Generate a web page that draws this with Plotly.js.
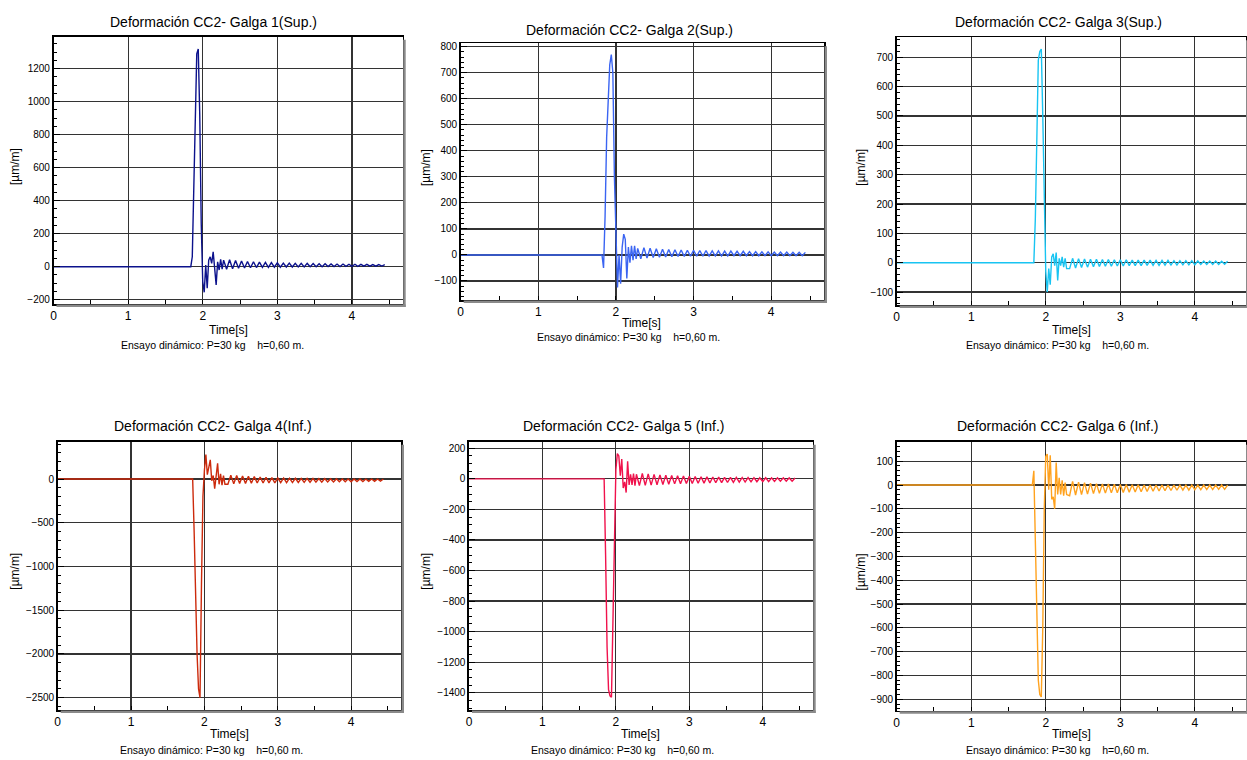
<!DOCTYPE html>
<html><head><meta charset="utf-8">
<script src="https://cdn.plot.ly/plotly-3.0.1.min.js"></script>
<style>html,body{margin:0;padding:0;background:#fff}#chart{width:1247px;height:760px}</style>
</head><body><div id="chart"></div>
<script>
// ---------- DATA ----------
const timeImpact = [0, 1.82, 1.84, 1.86, 1.88, 1.90, 1.92, 1.94, 1.96, 1.98, 2.00, 2.02, 2.04, 2.06, 2.08, 2.10, 2.12, 2.14, 2.16, 2.18, 2.20, 2.22, 2.24, 2.26, 2.28];
const timeRing = [2.32, 2.36, 2.40, 2.44, 2.48, 2.52, 2.56, 2.60, 2.64, 2.68, 2.72, 2.76, 2.80, 2.84, 2.88, 2.92, 2.96, 3.00, 3.04, 3.08, 3.12, 3.16, 3.20, 3.24, 3.28, 3.32, 3.36, 3.40, 3.44, 3.48, 3.52, 3.56, 3.60, 3.64, 3.68, 3.72, 3.76, 3.80, 3.84, 3.88, 3.92, 3.96, 4.00, 4.04, 4.08, 4.12, 4.16, 4.20, 4.24, 4.28, 4.32, 4.36, 4.40, 4.44];

const galga1Impact = [0, 0, 0, 60, 500, 980, 1290, 1320, 920, 260, -90, -155, 10, -130, 40, 60, 20, 90, -20, -110, 30, -20, 45, -15, 40];
const galga1Ring = [-15, 42, -12, 38, -10, 35, -8, 32, -6, 30, -5, 28, -4, 26, -4, 25, -3, 24, -3, 22, -2, 22, -2, 21, -1, 20, -1, 20, 0, 19, 0, 18, 0, 18, 1, 17, 1, 16, 1, 16, 2, 15, 2, 15, 2, 14, 3, 14, 3, 13, 3, 13, 4, 12];

const galga2Impact = [0, 0, -50, 150, 450, 620, 730, 770, 700, 300, 20, -125, 0, -110, 30, 80, 60, -90, 30, -30, 35, -20, 35, -15, 25];
const galga2Ring = [-15, 28, -12, 26, -10, 24, -9, 22, -8, 21, -7, 20, -6, 19, -6, 18, -5, 18, -5, 17, -5, 17, -4, 16, -4, 16, -4, 15, -4, 15, -3, 14, -3, 14, -3, 13, -3, 13, -3, 12, -3, 12, -3, 11, -3, 11, -3, 11, -3, 10, -3, 10, -3, 10];

const galga3Impact = [0, 0, 0, 150, 450, 690, 720, 728, 500, 150, -30, -100, -20, -75, 20, 30, -10, 35, -60, 15, -10, 20, -15, 15, -20];
const galga3Ring = [-20, 15, -18, 14, -16, 13, -15, 12, -14, 12, -13, 11, -12, 11, -12, 10, -11, 10, -11, 10, -10, 9, -10, 9, -10, 9, -9, 9, -9, 8, -9, 8, -8, 8, -8, 7, -8, 7, -7, 7, -7, 7, -7, 6, -6, 6, -6, 6, -6, 6, -6, 5, -5, 5];

const galga4Impact = [0, 0, 0, -600, -1400, -2000, -2400, -2500, -1200, -200, 100, 280, 50, 150, 220, -20, 40, -110, 20, 180, -60, 60, -70, 40, -60];
const galga4Ring = [-60, 45, -55, 40, -52, 36, -50, 32, -48, 28, -46, 24, -45, 20, -44, 17, -43, 14, -42, 12, -41, 10, -40, 9, -39, 8, -38, 8, -37, 7, -36, 6, -35, 5, -34, 4, -33, 3, -32, 2, -31, 2, -30, 1, -29, 1, -28, 0, -27, 0, -26, 0, -25, 0];

const galga5Impact = [0, 0, 0, -500, -1100, -1380, -1420, -1430, -900, -250, 60, 165, 150, 20, 130, -60, -20, -90, 115, -40, 30, -40, 35, -45, 30];
const galga5Ring = [-45, 35, -43, 32, -41, 29, -39, 26, -37, 24, -35, 22, -33, 20, -32, 18, -31, 16, -30, 15, -29, 14, -28, 13, -27, 12, -26, 11, -25, 10, -24, 10, -23, 9, -22, 9, -21, 8, -20, 8, -19, 7, -18, 7, -18, 7, -17, 6, -16, 6, -16, 6, -15, 6];

const galga6Impact = [0, 0, 60, -200, -550, -820, -880, -890, -600, -100, 120, 130, -20, 125, -60, -50, -100, 95, -40, 30, -40, 20, -45, 10, -40];
const galga6Ring = [-45, 15, -42, 12, -40, 10, -38, 8, -36, 6, -35, 5, -34, 4, -33, 3, -32, 2, -31, 2, -30, 1, -29, 1, -28, 0, -27, 0, -26, 0, -25, 0, -24, 0, -23, 0, -22, 0, -21, 0, -21, 0, -20, 0, -20, 0, -19, 0, -19, 0, -18, 0, -18, 0];

const panelTitles = ['Deformación CC2- Galga 1(Sup.)', 'Deformación CC2- Galga 2(Sup.)', 'Deformación CC2- Galga 3(Sup.)',
                     'Deformación CC2- Galga 4(Inf.)', 'Deformación CC2- Galga 5 (Inf.)', 'Deformación CC2- Galga 6 (Inf.)'];
const xAxisTitle = 'Time[s]';
const yAxisTitle = '[µm/m]';
const footnote = 'Ensayo dinámico: P=30 kg\u00a0\u00a0\u00a0\u00a0h=0,60 m.';
const seriesImpact = [galga1Impact, galga2Impact, galga3Impact, galga4Impact, galga5Impact, galga6Impact];
const seriesRing = [galga1Ring, galga2Ring, galga3Ring, galga4Ring, galga5Ring, galga6Ring];

// ---------- LAYOUT / STYLE ----------
const W = 1247, H = 760;
const panels = [
  {box:[53.5,36.7,402.7,304], yr:[-226,1394], dt:200, mdt:50, color:'#0c128c', title:[213,22], xt:[228,330], foot:[212.5,345], yl:[15,167]},
  {box:[460.7,43.3,824,300], yr:[-173,813], dt:100, mdt:20, color:'#3a64f2', title:[629,30], xt:[641.7,323], foot:[628,337], yl:[426,168]},
  {box:[896.7,37.3,1245.5,305], yr:[-144,768], dt:100, mdt:20, color:'#18c4f2', title:[1058,22], xt:[1071.7,330], foot:[1057,345], yl:[860.7,167]},
  {box:[57.7,441.7,401,710], yr:[-2641,427], dt:500, mdt:100, color:'#cc2a0c', title:[212.5,426], xt:[229,734], foot:[211.7,750], yl:[15,571.7]},
  {box:[469,441.7,812.7,710], yr:[-1513,243], dt:200, mdt:50, color:'#f0124c', title:[623.8,426], xt:[640.7,734], foot:[622.7,750], yl:[426,571.7]},
  {box:[896.7,441.7,1245.5,710.7], yr:[-948,182], dt:100, mdt:20, color:'#ffa21e', title:[1058,426], xt:[1071.7,734], foot:[1057,750], yl:[860.7,571.7]}
];
const px = v => v / W, py = v => 1 - v / H;
const narrow = 'Liberation Sans Narrow, Arial Narrow, Liberation Sans, Arial, sans-serif';
const sans = 'Liberation Sans, Arial, sans-serif';

const traces = [], annotations = [], shapes = [];
const layout = {width:W, height:H, margin:{l:0,r:0,t:0,b:0}, paper_bgcolor:'#fff', plot_bgcolor:'rgba(0,0,0,0)', showlegend:false, font:{family:sans, color:'#000'}};

panels.forEach((p, i) => {
  const n = i + 1;
  const xa = 'x' + (n === 1 ? '' : n), ya = 'y' + (n === 1 ? '' : n);
  const xk = 'xaxis' + (n === 1 ? '' : n), yk = 'yaxis' + (n === 1 ? '' : n);
  const [l, t, r, b] = p.box;
  traces.push({type:'scatter', mode:'lines', x: timeImpact.concat(timeRing), y: seriesImpact[i].concat(seriesRing[i]),
    xaxis: xa, yaxis: ya, line:{color:p.color, width:1.4}, hoverinfo:'skip'});
  const xRange = [0, 4.68];
  layout[xk] = {domain:[px(l), px(r)], anchor: ya, range: xRange, dtick:1, tick0:0, showgrid:true, gridcolor:'#333', gridwidth:1.2,
    zeroline:false, showline:true, linecolor:'#000', linewidth:1.6, mirror:true, ticks:'inside', ticklen:4, tickcolor:'#000',
    minor:{dtick:0.5, ticks:'inside', ticklen:4, tickcolor:'#000', showgrid:false},
    tickfont:{family:sans, size:12, color:'#000'}, fixedrange:true};
  layout[yk] = {domain:[py(b), py(t)], anchor: xa, range: p.yr, dtick:p.dt, tick0:0, showgrid:true, gridcolor:'#333', gridwidth:1.2,
    zeroline:false, showline:true, linecolor:'#000', linewidth:1.6, mirror:true, ticks:'inside', ticklen:6, tickcolor:'#000',
    minor:{dtick:p.mdt, ticks:'inside', ticklen:3, tickcolor:'#000', showgrid:false},
    tickfont:{family:narrow, size:10, color:'#000'}, ticklabelstandoff:0, fixedrange:true};
  // shadow
  shapes.push({type:'rect', xref:'paper', yref:'paper', x0:px(r+0.5), x1:px(r+3), y0:py(b+3), y1:py(t+3), fillcolor:'#8a8a8a', line:{width:0}});
  shapes.push({type:'rect', xref:'paper', yref:'paper', x0:px(l+3), x1:px(r+3), y0:py(b+3), y1:py(b+0.5), fillcolor:'#8a8a8a', line:{width:0}});
  annotations.push({xref:'paper', yref:'paper', x:px(p.title[0]), y:py(p.title[1]), xanchor:'center', yanchor:'middle', showarrow:false,
    text:panelTitles[i], font:{family:sans, size:14, color:'#000'}});
  annotations.push({xref:'paper', yref:'paper', x:px(p.xt[0]), y:py(p.xt[1]), xanchor:'center', yanchor:'middle', showarrow:false,
    text:xAxisTitle, font:{family:narrow, size:12, color:'#000'}});
  annotations.push({xref:'paper', yref:'paper', x:px(p.foot[0]), y:py(p.foot[1]), xanchor:'center', yanchor:'middle', showarrow:false,
    text:footnote, font:{family:sans, size:10.5, color:'#000'}});
  annotations.push({xref:'paper', yref:'paper', x:px(p.yl[0]), y:py(p.yl[1]), xanchor:'center', yanchor:'middle', showarrow:false,
    textangle:-90, text:yAxisTitle, font:{family:narrow, size:12, color:'#000'}});
});
layout.annotations = annotations;
layout.shapes = shapes;
Plotly.newPlot('chart', traces, layout, {staticPlot:true, displayModeBar:false});
</script></body></html>
